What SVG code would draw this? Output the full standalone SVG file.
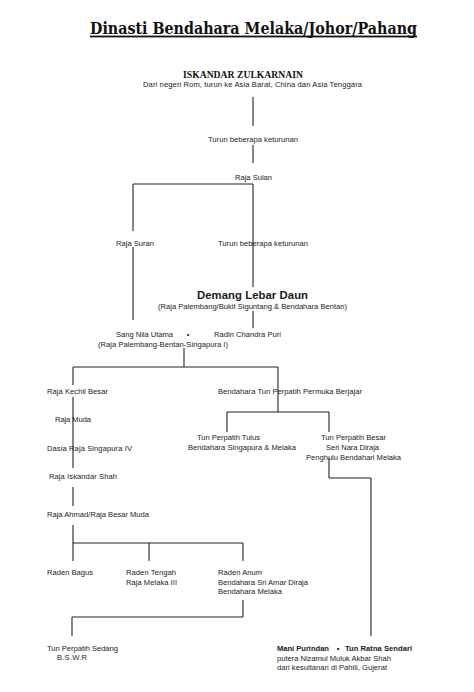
<svg xmlns="http://www.w3.org/2000/svg" width="474" height="692" viewBox="0 0 474 692">
<style>
.t{font-family:"Liberation Sans",Arial,sans-serif;font-size:7.6px;fill:#1a1a1a}
.b{font-weight:bold}
.m{text-anchor:middle}
.big{font-size:11.3px}
#connectors line{stroke:#222;stroke-width:1.1;fill:none}
</style>
<rect width="474" height="692" fill="#fff"/>
<g id="title">
<text x="253.5" y="34" text-anchor="middle" font-family="'DejaVu Serif','Liberation Serif',serif" font-weight="bold" font-size="16" fill="#111" textLength="327" lengthAdjust="spacingAndGlyphs">Dinasti Bendahara Melaka/Johor/Pahang</text>
<rect x="90" y="35.6" width="327" height="1.8" fill="#111"/>
</g>
<g id="connectors">
<line x1="253" y1="97" x2="253" y2="126"/>
<line x1="253" y1="145" x2="253" y2="163"/>
<line x1="133" y1="184" x2="253" y2="184"/>
<line x1="133" y1="184" x2="133" y2="231"/>
<line x1="133" y1="247" x2="133" y2="320"/>
<line x1="253" y1="184" x2="253" y2="287"/>
<line x1="253" y1="311" x2="253" y2="328"/>
<line x1="184" y1="348" x2="184" y2="367"/>
<line x1="73" y1="367" x2="278" y2="367"/>
<line x1="73" y1="367" x2="73" y2="385"/>
<line x1="278" y1="367" x2="278" y2="412"/>
<line x1="227" y1="412" x2="329" y2="412"/>
<line x1="227" y1="412" x2="227" y2="432"/>
<line x1="329" y1="412" x2="329" y2="432"/>
<line x1="329" y1="458" x2="329" y2="478"/>
<line x1="329" y1="478" x2="371" y2="478"/>
<line x1="371" y1="478" x2="371" y2="636"/>
<line x1="73" y1="397" x2="73" y2="468"/>
<line x1="73" y1="487" x2="73" y2="506"/>
<line x1="73" y1="525" x2="73" y2="561"/>
<line x1="73" y1="543" x2="243" y2="543"/>
<line x1="149" y1="543" x2="149" y2="561"/>
<line x1="243" y1="543" x2="243" y2="561"/>
<line x1="243" y1="600" x2="243" y2="617"/>
<line x1="72" y1="617" x2="243" y2="617"/>
<line x1="72" y1="617" x2="72" y2="636"/>
</g>
<g id="iskandar">
<text x="243" y="77.5" text-anchor="middle" font-family="'Liberation Serif','Times New Roman',serif" font-weight="bold" font-size="10.5" fill="#111" textLength="120" lengthAdjust="spacingAndGlyphs">ISKANDAR ZULKARNAIN</text>
<text class="t m" x="252.5" y="87" textLength="219">Dari negeri Rom, turun ke Asia Barat,  China dan Asia Tenggara</text>
</g>
<g id="turun1"><text class="t m" x="253" y="142" textLength="90">Turun beberapa keturunan</text></g>
<g id="raja-sulan"><text class="t m" x="253.5" y="180">Raja Sulan</text></g>
<g id="raja-suran"><text class="t m" x="135" y="246">Raja Suran</text></g>
<g id="turun2"><text class="t m" x="263" y="246" textLength="90">Turun beberapa keturunan</text></g>
<g id="demang">
<text class="t m b big" x="252.5" y="299" textLength="111">Demang Lebar Daun</text>
<text class="t m" x="252.5" y="309" textLength="189">(Raja Palembang/Bukit Siguntang &amp; Bendahara Bentan)</text>
</g>
<g id="sang-nila-utama">
<text class="t" x="116" y="337" textLength="57">Sang Nila Utama</text>
<text class="t" x="98" y="347" textLength="130">(Raja Palembang-Bentan-Singapura I)</text>
</g>
<g id="marriage1"><text class="t m" x="188" y="337">•</text></g>
<g id="radin-chandra-puri"><text class="t" x="214" y="337" textLength="67">Radin Chandra Puri</text></g>
<g id="raja-kechil-besar"><text class="t" x="47" y="394" textLength="61">Raja Kechil Besar</text></g>
<g id="tun-perpatih-permuka"><text class="t" x="218" y="394" textLength="144">Bendahara Tun Perpatih Permuka Berjajar</text></g>
<g id="raja-muda"><text class="t" x="55" y="422" textLength="36">Raja Muda</text></g>
<g id="dasia"><text class="t" x="47" y="451" textLength="85">Dasia Raja Singapura IV</text></g>
<g id="raja-iskandar-shah"><text class="t" x="49" y="479" textLength="68">Raja Iskandar Shah</text></g>
<g id="raja-ahmad"><text class="t" x="47" y="517" textLength="102">Raja Ahmad/Raja Besar Muda</text></g>
<g id="tun-perpatih-tulus">
<text class="t m" x="228.5" y="440" textLength="63">Tun Perpatih Tulus</text>
<text class="t m" x="242" y="450" textLength="108">Bendahara Singapura &amp; Melaka</text>
</g>
<g id="tun-perpatih-besar">
<text class="t m" x="353.5" y="440" textLength="65">Tun Perpatih Besar</text>
<text class="t m" x="352.5" y="450" textLength="53">Seri Nara Diraja</text>
<text class="t m" x="353.5" y="460" textLength="95">Penghulu Bendahari Melaka</text>
</g>
<g id="raden-bagus"><text class="t" x="47" y="575" textLength="46">Raden Bagus</text></g>
<g id="raden-tengah">
<text class="t" x="126" y="575" textLength="50">Raden Tengah</text>
<text class="t" x="126" y="585" textLength="51">Raja Melaka III</text>
</g>
<g id="raden-anum">
<text class="t" x="218" y="575" textLength="44">Raden Anum</text>
<text class="t" x="218" y="585" textLength="90">Bendahara Sri Amar Diraja</text>
<text class="t" x="218" y="594" textLength="64">Bendahara Melaka</text>
</g>
<g id="tun-perpatih-sedang">
<text class="t" x="47" y="651" textLength="71">Tun Perpatih Sedang</text>
<text class="t" x="57" y="660" textLength="30">B.S.W.R</text>
</g>
<g id="mani-purindan">
<text class="t b" x="277" y="651" textLength="52">Mani Purindan</text>
<text class="t" x="277" y="661" textLength="114">putera Nizamul Muluk Akbar Shah</text>
<text class="t" x="277" y="670" textLength="110">dari kesultanan di Pahili, Gujerat</text>
</g>
<g id="marriage2"><text class="t m b" x="338" y="651">•</text></g>
<g id="tun-ratna-sendari"><text class="t b" x="345" y="651" textLength="67">Tun Ratna Sendari</text></g>
</svg>
